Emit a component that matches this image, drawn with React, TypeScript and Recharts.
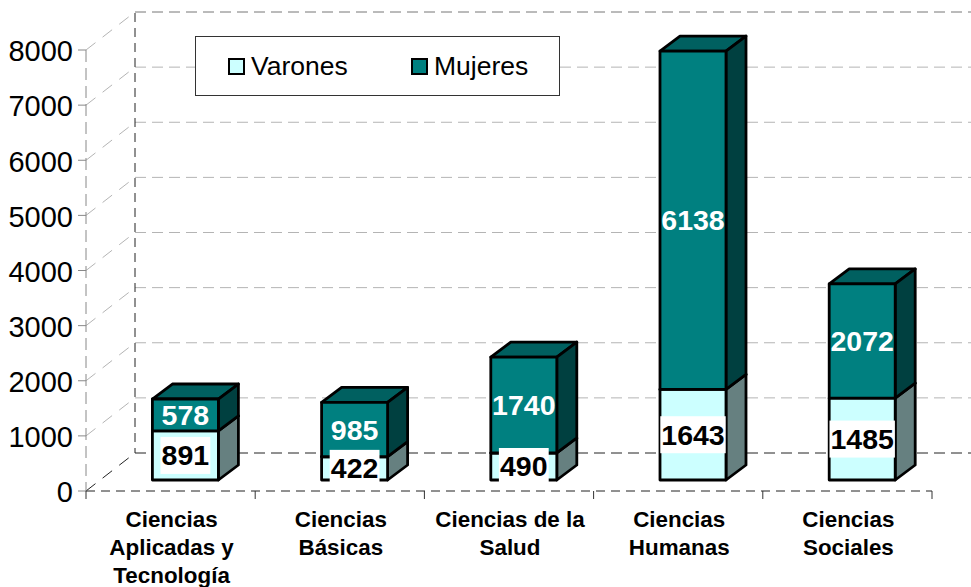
import { BarChart, Bar, XAxis, YAxis, CartesianGrid, Legend, LabelList } from 'recharts';

const categories = [
  ['Ciencias', 'Aplicadas y', 'Tecnología'],
  ['Ciencias', 'Básicas'],
  ['Ciencias de la', 'Salud'],
  ['Ciencias', 'Humanas'],
  ['Ciencias', 'Sociales'],
];
const varones = [891, 422, 490, 1643, 1485];
const mujeres = [578, 985, 1740, 6138, 2072];
const yTicks = [0, 1000, 2000, 3000, 4000, 5000, 6000, 7000, 8000];

const data = categories.map((lines, i) => ({
  name: lines.join(' '),
  Varones: varones[i],
  Mujeres: mujeres[i],
}));

const FONT = '"Liberation Sans", Arial, sans-serif';
const BAND = 169.2;
// 3d look: floor depth, and how far bars sit inside the floor
const WALL_DX = 49;
const WALL_DY = 38;
const BAR_DX = 14.4;
const BAR_DY = 11;
const SIDE_DX = 20;
const SIDE_DY = 15;

function WallLine(props: any) {
  const { x1, y1, x2 } = props;
  const isFloor = Math.abs(y1 - 491) < 1;
  const isTop = Math.abs(y1 - 50) < 1;
  const color = isFloor ? '#222' : '#b4b4b4';
  return (
    <g fill="none">
      <line x1={x1} y1={y1} x2={x1 + WALL_DX} y2={y1 - WALL_DY} stroke={color} strokeDasharray="12 9" />
      <line x1={x1 + WALL_DX} y1={y1 - WALL_DY} x2={x2 + 39} y2={y1 - WALL_DY} stroke={isTop ? '#777' : color} strokeDasharray="11 6" />
      {isTop && <line x1={x1 + WALL_DX} y1={13} x2={x1 + WALL_DX} y2={453} stroke="#222" strokeDasharray="9 6" />}
    </g>
  );
}

function Box3D({ x, y, width, height, fill, side, top }: any) {
  const fx = x + BAR_DX;
  const fy = y - BAR_DY;
  return (
    <g stroke="#000" strokeWidth={2.8} strokeLinejoin="round">
      <path d={`M${fx},${fy} l${SIDE_DX},${-SIDE_DY} h${width} l${-SIDE_DX},${SIDE_DY} z`} fill={top} />
      <path d={`M${fx + width},${fy} l${SIDE_DX},${-SIDE_DY} v${height} l${-SIDE_DX},${SIDE_DY} z`} fill={side} />
      <rect x={fx} y={fy} width={width} height={height} fill={fill} />
    </g>
  );
}

function BoxLabel({ x, y, width, height, value, color, bg }: any) {
  const cx = x + BAR_DX + width / 2;
  const cy = y - BAR_DY + height / 2;
  const text = String(value);
  const w = text.length * 15.6 + 3;
  return (
    <g>
      <rect x={cx - w / 2} y={cy - 18.5} width={w} height={37} fill={bg} />
      <text x={cx} y={cy + 10} textAnchor="middle" fontFamily={FONT} fontWeight="bold" fontSize={28.5} fill={color}>
        {text}
      </text>
    </g>
  );
}

function CategoryTick({ x, y, index }: any) {
  const lines = categories[index];
  return (
    <g>
      <line x1={x - BAND / 2} y1={y - 8} x2={x - BAND / 2} y2={y} stroke="#333" />
      {index === categories.length - 1 && (
        <line x1={x + BAND / 2} y1={y - 8} x2={x + BAND / 2} y2={y} stroke="#333" />
      )}
      {lines.map((line: string, i: number) => (
        <text key={line} x={x + 1} y={y + 28 + i * 28} textAnchor="middle" fontFamily={FONT} fontWeight="bold" fontSize={22.4} fill="#000">
          {line}
        </text>
      ))}
    </g>
  );
}

function LegendBox({ payload }: any) {
  const lefts = [32, 215];
  return (
    <div style={{ position: 'relative', width: 365, height: 60, background: '#fff', border: '1px solid #333', boxSizing: 'border-box' }}>
      {[...(payload || [])]
        .sort((a: any, b: any) => (a.value === 'Varones' ? -1 : b.value === 'Varones' ? 1 : 0))
        .map((p: any, i: number) => (
          <div key={p.value} style={{ position: 'absolute', left: lefts[i], top: 0, height: 58, display: 'flex', alignItems: 'center', fontFamily: FONT, fontSize: 26.5, color: '#000' }}>
            <span style={{ display: 'inline-block', width: 13, height: 13, background: p.color, border: '2.8px solid #000', marginRight: 6 }} />
            {p.value}
          </div>
        ))}
    </div>
  );
}

export default function App() {
  return (
    <div style={{ position: 'absolute', left: 0, top: 0, width: 971, height: 587, background: '#fff' }}>
      <BarChart
        width={971}
        height={587}
        data={data}
        stackOffset="none"
        margin={{ top: 50, right: 39, left: 0, bottom: 0 }}
      >
        <CartesianGrid vertical={false} horizontal={(p: any) => <WallLine key={p.y1} {...p} />} />
        <XAxis
          dataKey="name"
          height={96}
          interval={0}
          tickLine={false}
          axisLine={{ stroke: '#222', strokeDasharray: '9 6' }}
          tick={<CategoryTick />}
        />
        <YAxis
          width={86}
          domain={[0, 8000]}
          ticks={yTicks}
          interval={0}
          tickSize={8}
          tickMargin={5}
          axisLine={{ stroke: '#888', strokeDasharray: '12 6' }}
          tickLine={{ stroke: '#888' }}
          tick={{ fontFamily: FONT, fontSize: 29, fill: '#000', dy: 1 }}
        />
        <Legend
          layout="vertical"
          align="center"
          verticalAlign="middle"
          wrapperStyle={{ left: 195, top: 36, width: 365, height: 60 }}
          content={<LegendBox />}
        />
        <Bar
          dataKey="Varones"
          stackId="a"
          barSize={66}
          fill="#CCFFFF"
          isAnimationActive={false}
          shape={(p: any) => <Box3D {...p} side="#668080" top="#668080" />}
        >
          <LabelList dataKey="Varones" content={(p: any) => <BoxLabel {...p} color="#000" bg="#fff" />} />
        </Bar>
        <Bar
          dataKey="Mujeres"
          stackId="a"
          barSize={66}
          fill="#008080"
          isAnimationActive={false}
          shape={(p: any) => <Box3D {...p} side="#004040" top="#006060" />}
        >
          <LabelList dataKey="Mujeres" content={(p: any) => <BoxLabel {...p} color="#fff" bg="none" />} />
        </Bar>
      </BarChart>
    </div>
  );
}
